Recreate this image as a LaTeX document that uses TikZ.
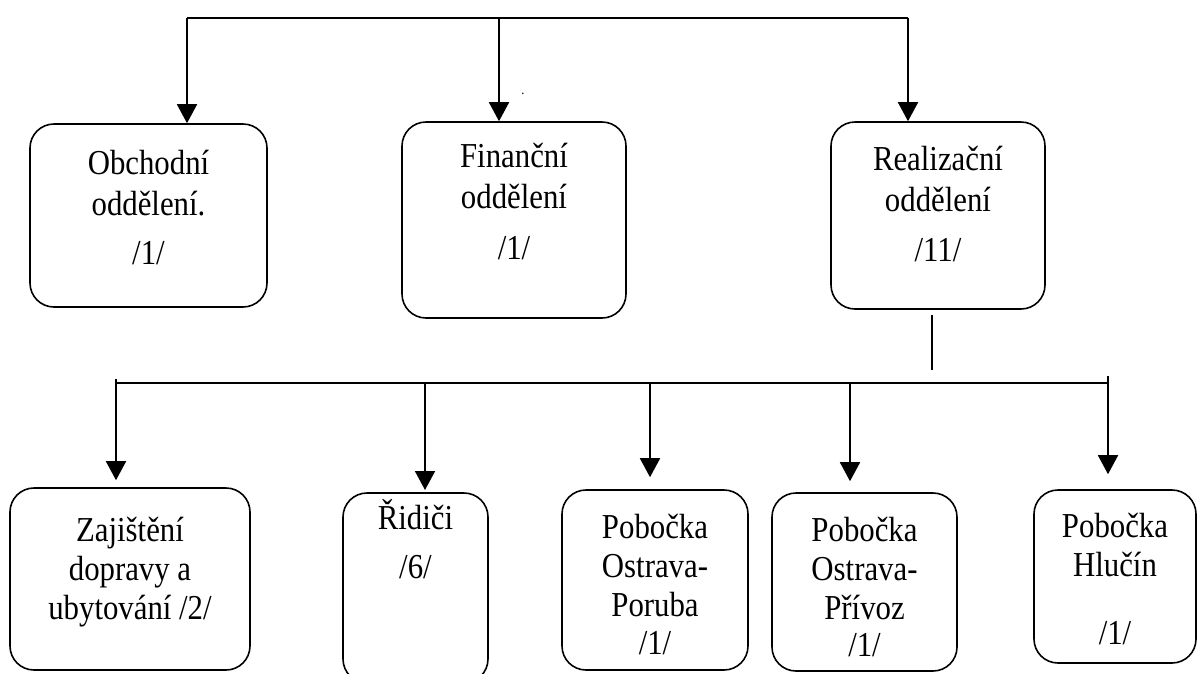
\documentclass[tikz,border=0pt]{standalone}
\usepackage{fontspec}
\setmainfont{Liberation Serif}[FakeStretch=0.88]
\usetikzlibrary{arrows.meta}

\begin{document}
\begin{tikzpicture}[x=1pt,y=-1pt,
  line width=1.8pt,
  unit/.style={draw, rounded corners=24pt, line width=1.6pt, inner sep=0pt},
  lbl/.style={font=\fontsize{35}{40}\selectfont, inner sep=0pt, anchor=base},
  arr/.style={-{Triangle[width=20pt,length=19pt]}},
]
\useasboundingbox (0,0) rectangle (1198,673);

% upper level
\node[unit, minimum width=237pt, minimum height=183pt] (obch) at (148.5,215.5) {};
\node[unit, minimum width=224pt, minimum height=196pt] (fin)  at (514,220) {};
\node[unit, minimum width=214pt, minimum height=187pt] (real) at (938,215.5) {};

\node[lbl] (t1a) at (148.5,174) {Obchodní};
\node[lbl] (t1b) at (148.5,215) {oddělení.};
\node[lbl] (t1c) at (148.5,264) {/1/};

\node[lbl] (t2a) at (514,167) {Finanční};
\node[lbl] (t2b) at (514,208) {oddělení};
\node[lbl] (t2c) at (514,259) {/1/};

\node[lbl] (t3a) at (938,170) {Realizační};
\node[lbl] (t3b) at (938,211) {oddělení};
\node[lbl] (t3c) at (938,261) {/11/};

\node[font=\fontsize{14}{14}\selectfont, inner sep=0pt] (dot) at (523,94) {.};

% lower level
\node[unit, minimum width=240pt, minimum height=182pt] (zaj) at (130,579) {};
\node[unit, minimum width=145pt, minimum height=190pt] (rid) at (415.5,588) {};
\node[unit, minimum width=186pt, minimum height=180pt] (por) at (655,580) {};
\node[unit, minimum width=185pt, minimum height=178pt] (pri) at (864.5,582) {};
\node[unit, minimum width=162pt, minimum height=173pt] (hlu) at (1115,576.5) {};

\node[lbl] (z1) at (130,541) {Zajištění};
\node[lbl] (z2) at (130,580) {dopravy a};
\node[lbl] (z3) at (130,619) {ubytování /2/};

\node[lbl] (r1) at (415.5,529) {Řidiči};
\node[lbl] (r2) at (415.5,578) {/6/};

\node[lbl] (p1) at (655,538) {Pobočka};
\node[lbl] (p2) at (655,577) {Ostrava-};
\node[lbl] (p3) at (655,616) {Poruba};
\node[lbl] (p4) at (655,654) {/1/};

\node[lbl] (q1) at (864.5,541) {Pobočka};
\node[lbl] (q2) at (864.5,580) {Ostrava-};
\node[lbl] (q3) at (864.5,619) {Přívoz};
\node[lbl] (q4) at (864.5,656) {/1/};

\node[lbl] (h1) at (1115,537) {Pobočka};
\node[lbl] (h2) at (1115,576) {Hlučín};
\node[lbl] (h3) at (1115,644) {/1/};

% connectors
\coordinate (topL) at (187,18);
\coordinate (topM) at (499,18);
\coordinate (topR) at (908,18);
\draw (topL) -- (topR);
\draw[arr] (topL) -- (topL |- obch.north);
\draw[arr] (topM) -- (topM |- fin.north);
\draw[arr] (topR) -- (topR |- real.north);

\coordinate (drop) at (932,370);
\draw (real.south -| drop) ++(0,5) -- (drop);

\coordinate (busL) at (116,383);
\coordinate (busR) at (1108,383);
\draw (busL) -- (busR);
\draw[arr, shorten >=7pt] (116,379) -- (zaj.north -| busL);
\draw[arr, shorten >=3pt] (425,383) -- (425,493);
\draw[arr, shorten >=12pt] (650,383) -- (por.north -| 650,0);
\draw[arr, shorten >=11pt] (850,383) -- (pri.north -| 850,0);
\draw[arr, shorten >=15pt] (1108,376) -- (hlu.north -| busR);
\end{tikzpicture}
\end{document}
